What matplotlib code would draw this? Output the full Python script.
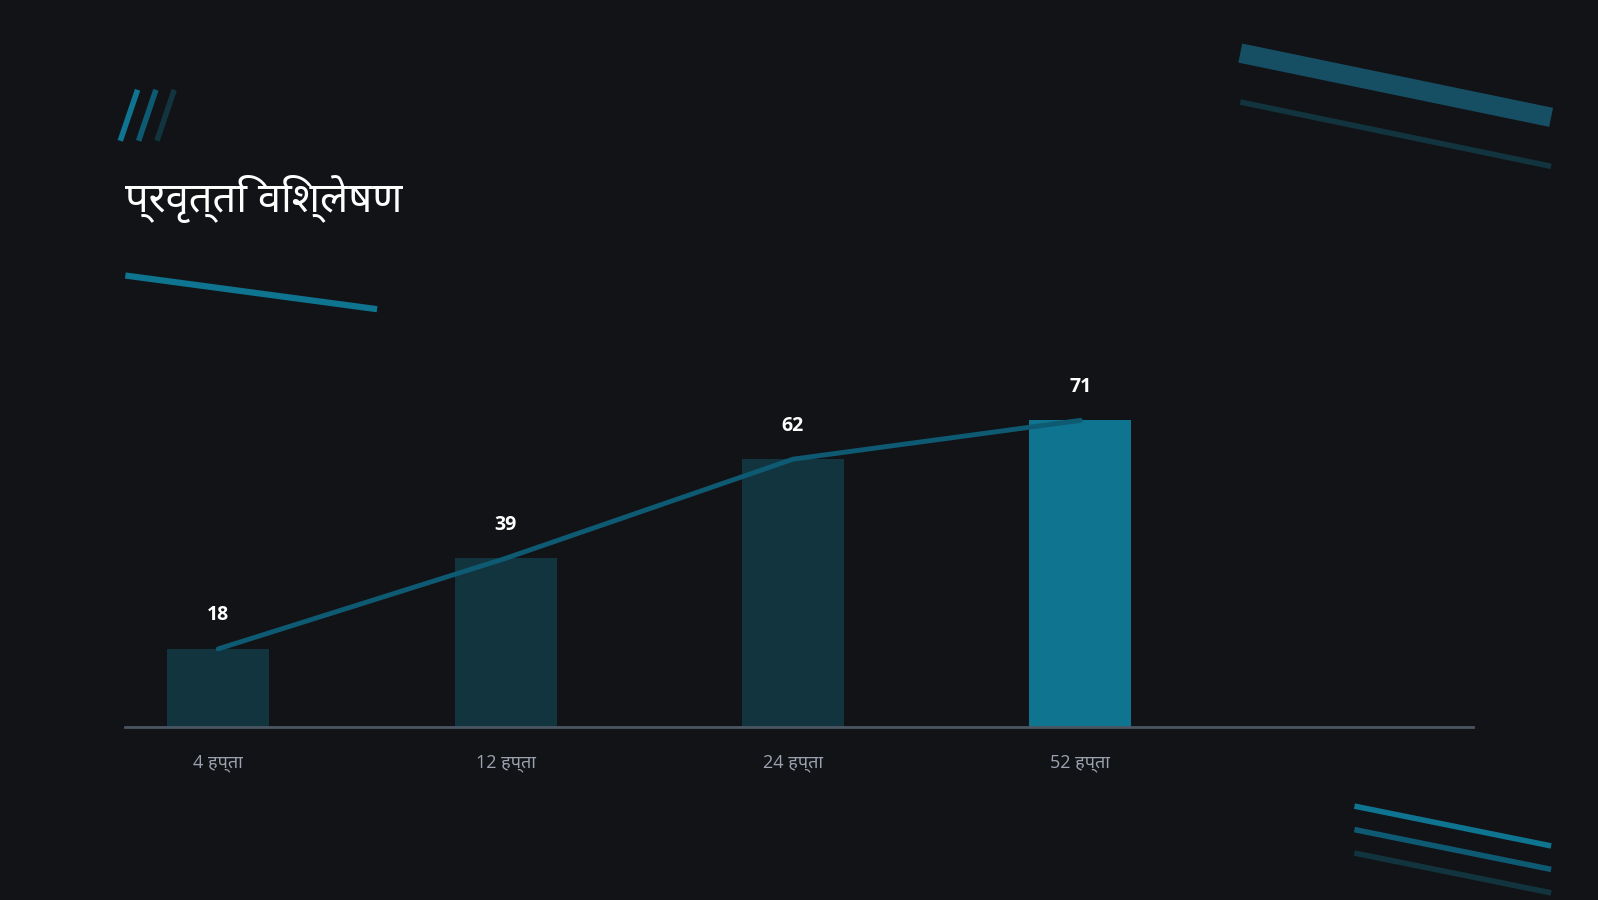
import matplotlib
matplotlib.use('Agg')
import matplotlib.pyplot as plt
from matplotlib.lines import Line2D

plt.rcParams['font.family'] = ['Open Sans', 'Noto Sans', 'DejaVu Sans']

categories = ['4 हप्ता', '12 हप्ता', '24 हप्ता', '52 हप्ता']
values = [18, 39, 62, 71]
title = 'प्रवृत्ति विश्लेषण'

BG = '#111317'
# reference coordinates were read on a 1568x882 view of the 1598x900 chart
W, H = 1568, 882

fig = plt.figure(figsize=(15.98, 9.0), dpi=100, facecolor=BG)

def px(x0, y0, x1, y1, color, lw, alpha=1.0):
    fig.add_artist(Line2D([x0 / W, x1 / W], [1 - y0 / H, 1 - y1 / H],
                          color=color, lw=lw, alpha=alpha,
                          transform=fig.transFigure, solid_capstyle='butt'))

# decorations
px(118, 138, 135, 88, '#0e7490', 4)
px(136, 138, 153, 88, '#0e5a73', 4)
px(154, 138, 171, 88, '#11343f', 4)
px(123, 270, 370, 303, '#0e7490', 4.5)
px(1217, 52, 1522, 115, '#164e63', 14)
px(1217, 100, 1522, 163, '#11343f', 4)
px(1329, 790, 1522, 829, '#0e7490', 4)
px(1329, 813, 1522, 852, '#0e5a73', 4)
px(1329, 836, 1522, 875, '#11343f', 4)

fig.text(123 / W, 1 - 195 / H, title, color='white', fontsize=30,
         fontweight='bold', va='center', ha='left')

ax = fig.add_axes([123 / W, 1 - 712 / H, (1445 - 123) / W, (712 - 330) / H])
ax.set_facecolor(BG)
x = list(range(len(values)))
colors = ['#11343f'] * (len(values) - 1) + ['#0e7490']
ax.bar(x, values, width=0.355, color=colors, zorder=2)
ax.plot(x, values, color='#0e5a73', lw=3.5, zorder=3, solid_capstyle='round')
for xi, v in zip(x, values):
    ax.annotate(str(v), (xi, v), xytext=(0, 17), textcoords='offset points',
                ha='center', va='bottom', color='white', fontsize=14,
                fontweight='bold')
ax.set_xlim(-0.323, 4.365)
ax.set_ylim(0, 90.4)
ax.set_xticks(x)
ax.set_xticklabels(categories, color='#9ca3af', fontsize=13)
ax.tick_params(axis='x', length=0, pad=20)
ax.set_yticks([])
for s in ['top', 'right', 'left']:
    ax.spines[s].set_visible(False)
ax.spines['bottom'].set_color('#4b5563')
ax.spines['bottom'].set_linewidth(2)

fig.savefig('out.png', facecolor=BG)
